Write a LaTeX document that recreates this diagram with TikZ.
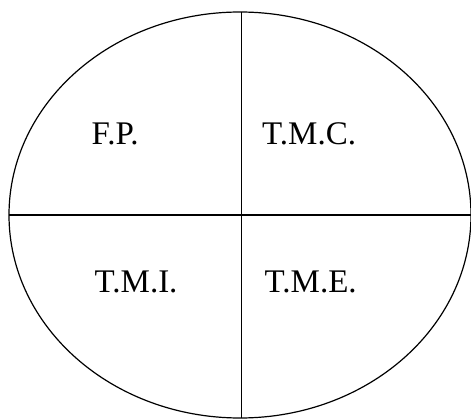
\documentclass[tikz,border=0pt]{standalone}
\usepackage{fontspec}
\setmainfont{Liberation Serif}
\usepackage{tikz}
\usetikzlibrary{positioning}
\tikzset{
    quadlabel/.style={anchor=base west, inner sep=0pt, font=\fontsize{33}{40}\selectfont},
    divider/.style={line width=1.2pt, black}
}

\begin{document}
\begin{tikzpicture}[x=1pt, y=1pt]
    \useasboundingbox (0, 0) rectangle (471, 418);
    % Outer ellipse
    \draw[divider] (240, 203) ellipse (231 and 203);
    % Axes through the ellipse
    \coordinate (west) at (9, 203);
    \coordinate (east) at (471, 203);
    \coordinate (top) at (241.5, 406);
    \coordinate (bottom) at (241.5, 0);
    \draw[divider] (west) -- (east);
    \draw[divider] (top) -- (bottom);
    
    % Quadrant labels
    \node[quadlabel] (fp) at (91.5, 273) {F.P.};
    \node[quadlabel] (tmc) at (262, 273) {T.M.C.};
    \node[quadlabel] (tmi) at (94.5, 125) {T.M.I.};
    \node[quadlabel] (tme) at (264.5, 125) {T.M.E.};
\end{tikzpicture}
\end{document}
